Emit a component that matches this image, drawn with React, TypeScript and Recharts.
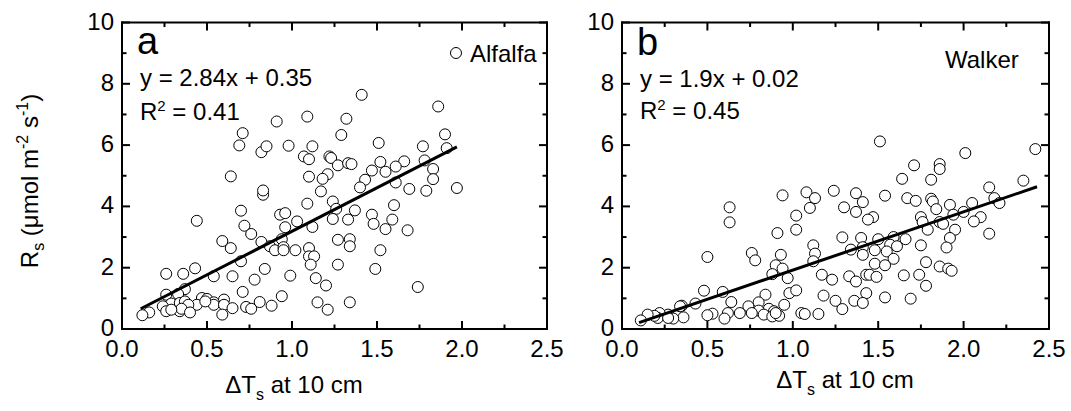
import React from 'react';
import { ScatterChart, Scatter, XAxis, YAxis } from 'recharts';

const FONT = '"Liberation Sans", Arial, Helvetica, sans-serif';

// ---- tick values & labels ----
const xMajorTicks = [0, 0.5, 1, 1.5, 2, 2.5];
const xTickLabels = ['0.0', '0.5', '1.0', '1.5', '2.0', '2.5'];
const xMinorTicks = [0.25, 0.75, 1.25, 1.75, 2.25];
const yMajorTicks = [0, 2, 4, 6, 8, 10];
const yTickLabels = ['0', '2', '4', '6', '8', '10'];
const yMinorTicks = [1, 3, 5, 7, 9];

// ---- data: [ΔTs at 10 cm, Rs] ----
const alfalfa: [number, number][] = [
  [1.41, 7.64], [1.86, 7.26], [0.91, 6.77], [1.09, 6.93], [1.32, 6.86], [0.71, 6.39], [0.69, 5.99], [1.29, 6.33],
  [1.90, 6.35], [0.98, 5.98], [1.12, 5.96], [1.51, 6.07], [1.77, 5.96], [1.91, 5.90], [0.82, 5.77], [0.85, 5.96],
  [1.07, 5.63], [1.10, 5.54], [1.22, 5.63], [1.23, 5.58], [1.27, 5.34], [1.33, 5.41], [1.35, 5.38], [1.52, 5.45],
  [1.66, 5.47], [1.78, 5.50], [1.61, 5.30], [1.47, 5.17], [1.55, 5.13], [1.83, 5.22], [0.64, 4.98], [1.10, 4.97],
  [1.21, 5.05], [1.18, 4.90], [1.43, 4.87], [1.83, 4.89], [1.40, 4.62], [1.61, 4.78], [1.69, 4.57], [1.79, 4.51],
  [1.97, 4.60], [1.17, 4.49], [0.83, 4.38], [0.83, 4.52], [1.09, 4.09], [1.24, 4.16], [1.26, 3.92], [1.60, 4.04],
  [1.37, 3.87], [0.70, 3.86], [0.44, 3.53], [0.93, 3.73], [0.96, 3.78], [1.03, 3.51], [1.24, 3.59], [1.33, 3.57],
  [1.47, 3.73], [1.48, 3.43], [1.59, 3.57], [0.72, 3.37], [1.12, 3.33], [0.96, 3.32], [1.55, 3.26], [1.68, 3.22],
  [0.76, 3.10], [0.59, 2.87], [0.82, 2.84], [0.94, 2.93], [0.87, 2.70], [0.90, 2.57], [0.95, 2.67], [0.95, 2.57],
  [1.27, 2.91], [1.34, 2.93], [1.34, 2.70], [0.64, 2.64], [1.02, 2.57], [1.10, 2.64], [1.10, 2.37], [1.13, 2.37],
  [1.52, 2.57], [0.70, 2.21], [1.11, 2.10], [1.27, 2.10], [0.26, 1.80], [0.36, 1.80], [0.43, 1.98], [0.84, 1.96],
  [1.49, 1.96], [0.54, 1.72], [0.65, 1.72], [0.78, 1.61], [0.99, 1.74], [1.14, 1.66], [1.20, 1.42], [0.37, 1.30],
  [1.74, 1.37], [0.33, 1.14], [0.71, 1.21], [0.26, 1.12], [0.47, 1.01], [0.50, 0.98], [0.60, 0.96], [0.94, 1.07],
  [0.81, 0.88], [0.54, 0.87], [0.54, 0.79], [0.29, 0.83], [0.44, 0.79], [0.34, 0.85], [0.37, 0.90], [0.60, 0.79],
  [1.15, 0.87], [1.34, 0.87], [0.24, 0.74], [0.39, 0.79], [0.65, 0.68], [0.73, 0.72], [0.76, 0.66], [0.88, 0.76],
  [0.26, 0.58], [0.34, 0.58], [0.35, 0.66], [0.40, 0.54], [0.59, 0.47], [1.21, 0.63], [0.16, 0.54], [0.12, 0.45],
  [0.29, 0.63], [0.49, 0.90],
];

const walker: [number, number][] = [
  [1.51, 6.12], [2.42, 5.87], [2.01, 5.74], [1.71, 5.34], [1.86, 5.38], [1.86, 5.22], [1.64, 4.90], [1.81, 4.87],
  [2.35, 4.84], [2.15, 4.62], [1.24, 4.51], [1.08, 4.46], [0.94, 4.36], [1.37, 4.43], [1.54, 4.35], [1.13, 4.27],
  [1.67, 4.27], [1.72, 4.18], [1.81, 4.25], [1.82, 4.16], [1.41, 4.14], [2.18, 4.27], [2.21, 4.11], [2.05, 4.11],
  [1.92, 4.05], [0.63, 3.97], [1.10, 3.95], [1.30, 3.97], [1.84, 3.91], [1.37, 3.82], [2.00, 3.82], [1.94, 3.73],
  [2.10, 3.65], [1.02, 3.70], [1.47, 3.65], [1.75, 3.65], [1.44, 3.57], [0.63, 3.48], [2.06, 3.51], [1.86, 3.49],
  [1.88, 3.43], [1.76, 3.49], [1.79, 3.24], [1.95, 3.24], [1.02, 3.24], [0.91, 3.13], [2.15, 3.11], [1.92, 2.97],
  [1.29, 2.99], [1.40, 2.97], [1.50, 2.93], [1.59, 3.00], [1.66, 2.93], [1.12, 2.73], [1.75, 2.73], [1.34, 2.59],
  [1.41, 2.67], [1.90, 2.66], [1.57, 2.75], [1.61, 2.70], [1.48, 2.57], [1.55, 2.53], [1.13, 2.46], [1.41, 2.42],
  [0.76, 2.48], [0.93, 2.42], [0.50, 2.35], [0.78, 2.24], [1.12, 2.21], [1.59, 2.29], [1.78, 2.18], [0.90, 2.08],
  [0.94, 1.97], [1.48, 2.13], [1.54, 2.08], [1.86, 2.04], [1.91, 1.97], [1.93, 1.90], [0.88, 1.79], [0.97, 1.66],
  [1.17, 1.77], [1.23, 1.61], [1.33, 1.72], [1.37, 1.55], [1.43, 1.77], [1.45, 1.77], [1.49, 1.70], [1.65, 1.75],
  [1.74, 1.77], [1.78, 1.41], [0.48, 1.25], [0.59, 1.21], [0.84, 1.12], [0.98, 1.17], [1.02, 1.26], [1.18, 1.09],
  [1.43, 1.17], [1.25, 0.92], [1.36, 0.92], [1.41, 0.85], [1.54, 1.03], [1.69, 0.99], [1.29, 0.65], [0.43, 0.83],
  [0.35, 0.76], [0.64, 0.88], [0.80, 0.87], [0.74, 0.74], [0.95, 0.79], [0.86, 0.66], [0.89, 0.58], [0.80, 0.60],
  [0.76, 0.52], [0.69, 0.52], [0.62, 0.52], [0.53, 0.50], [0.50, 0.45], [0.60, 0.34], [0.83, 0.47], [0.88, 0.41],
  [0.92, 0.43], [0.90, 0.52], [1.05, 0.52], [1.07, 0.49], [1.15, 0.49], [0.36, 0.38], [0.34, 0.74], [0.27, 0.47],
  [0.30, 0.34], [0.22, 0.52], [0.21, 0.36], [0.19, 0.43], [0.15, 0.47], [0.11, 0.28], [0.27, 0.36],
];

// regression line end points (y = 2.84x + 0.35 and y = 1.9x + 0.02)
const alfalfaFit: [number, number][] = [[0.11, 0.66], [1.97, 5.94]];
const walkerFit: [number, number][] = [[0.10, 0.21], [2.43, 4.64]];

const toObj = (arr: [number, number][]) => arr.map(([x, y]) => ({ x, y }));

const xAllTicks = [...xMajorTicks, ...xMinorTicks].sort((a, b) => a - b);
const yAllTicks = [...yMajorTicks, ...yMinorTicks].sort((a, b) => a - b);

type Side = 'bottom' | 'top' | 'left' | 'right';

const makeTick = (side: Side, majors: number[], labels: string[] | null) => (props: any) => {
  const { x, y, payload } = props;
  const v = payload.value;
  const idx = majors.findIndex((m) => Math.abs(m - v) < 1e-9);
  const major = idx >= 0;
  const len = major ? 8 : 4.5;
  let x2 = x;
  let y2 = y;
  if (side === 'bottom') y2 = y - len;
  else if (side === 'top') y2 = y + len;
  else if (side === 'left') x2 = x + len;
  else x2 = x - len;
  return (
    <g>
      <line x1={x} y1={y} x2={x2} y2={y2} stroke="#000" strokeWidth={2} />
      {major && labels && side === 'bottom' && (
        <text x={x} y={y + 27.5} textAnchor="middle" fontSize={24} fontFamily={FONT} fill="#000">
          {labels[idx]}
        </text>
      )}
      {major && labels && side === 'left' && (
        <text x={x - 8} y={y + 7} textAnchor="end" fontSize={24} fontFamily={FONT} fill="#000">
          {labels[idx]}
        </text>
      )}
    </g>
  );
};

const bottomTick = makeTick('bottom', xMajorTicks, xTickLabels);
const topTick = makeTick('top', xMajorTicks, null);
const leftTick = makeTick('left', yMajorTicks, yTickLabels);
const rightTick = makeTick('right', yMajorTicks, null);

const axisLineStyle = { stroke: '#000', strokeWidth: 2, strokeLinecap: 'square' as const };

const circleShape = (p: any) => (
  <circle cx={p.cx} cy={p.cy} r={5.5} fill="#fff" stroke="#000" strokeWidth={1} />
);
const noShape = () => <g />;

function Panel({ width, margin, points, fit }: { width: number; margin: any; points: [number, number][]; fit: [number, number][] }) {
  return (
    <ScatterChart width={width} height={411} margin={margin}>
      <XAxis xAxisId="b" orientation="bottom" type="number" dataKey="x" domain={[0, 2.5]} allowDataOverflow ticks={xAllTicks}
        interval={0} height={1} tickSize={0} tickMargin={0} tickLine={false} axisLine={axisLineStyle} tick={bottomTick} />
      <XAxis xAxisId="t" orientation="top" type="number" dataKey="x" domain={[0, 2.5]} allowDataOverflow ticks={xAllTicks}
        interval={0} height={1} tickSize={0} tickMargin={0} tickLine={false} axisLine={axisLineStyle} tick={topTick} />
      <YAxis yAxisId="l" orientation="left" type="number" dataKey="y" domain={[0, 10]} allowDataOverflow ticks={yAllTicks}
        interval={0} width={1} tickSize={0} tickMargin={0} tickLine={false} axisLine={axisLineStyle} tick={leftTick} />
      <YAxis yAxisId="r" orientation="right" type="number" dataKey="y" domain={[0, 10]} allowDataOverflow ticks={yAllTicks}
        interval={0} width={1} tickSize={0} tickMargin={0} tickLine={false} axisLine={axisLineStyle} tick={rightTick} />
      <Scatter xAxisId="b" yAxisId="l" data={toObj(points)} shape={circleShape} isAnimationActive={false} />
      <Scatter xAxisId="b" yAxisId="l" data={toObj(fit)} shape={noShape} fill="#000"
        line={{ stroke: '#000', strokeWidth: 3 }} isAnimationActive={false} />
    </ScatterChart>
  );
}

const txt = { fontFamily: FONT, fill: '#000' };

export default function App() {
  return (
    <div style={{ position: 'absolute', left: 0, top: 0, width: 1071, height: 411, background: '#fff' }}>
      <div style={{ position: 'absolute', left: 0, top: 0 }}>
        <Panel width={580} margin={{ top: 21.5, right: 32, bottom: 81, left: 121 }} points={alfalfa} fit={alfalfaFit} />
      </div>
      <div style={{ position: 'absolute', left: 560, top: 0 }}>
        <Panel width={511} margin={{ top: 21.5, right: 21, bottom: 81, left: 61 }} points={walker} fit={walkerFit} />
      </div>
      <svg width={1071} height={411} style={{ position: 'absolute', left: 0, top: 0, pointerEvents: 'none' }}>
        {/* y-axis title */}
        <text transform="translate(38,181) rotate(-90)" textAnchor="middle" fontSize={24} {...txt}>
          R<tspan fontSize={16} dy={6}>s</tspan>
          <tspan dy={-6}> (μmol m</tspan>
          <tspan fontSize={16} dy={-10}>-2</tspan>
          <tspan dy={10}> s</tspan>
          <tspan fontSize={16} dy={-10}>-1</tspan>
          <tspan dy={10}>)</tspan>
        </text>
        {/* x-axis titles */}
        <text x={294} y={393} textAnchor="middle" fontSize={24} {...txt}>
          ΔT<tspan fontSize={16} dy={7}>s</tspan><tspan dy={-7}> at 10 cm</tspan>
        </text>
        <text x={845} y={388} textAnchor="middle" fontSize={24} {...txt}>
          ΔT<tspan fontSize={16} dy={7}>s</tspan><tspan dy={-7}> at 10 cm</tspan>
        </text>
        {/* panel a annotations */}
        <text x={137} y={54} fontSize={38} {...txt}>a</text>
        <text x={140} y={86} fontSize={24} {...txt}>y = 2.84x + 0.35</text>
        <text x={140} y={120} fontSize={24} {...txt}>
          R<tspan fontSize={15} dy={-9}>2</tspan><tspan dy={9}> = 0.41</tspan>
        </text>
        <circle cx={456} cy={53} r={5.5} fill="#fff" stroke="#000" strokeWidth={1} />
        <text x={470} y={62} fontSize={24} {...txt}>Alfalfa</text>
        {/* panel b annotations */}
        <text x={637} y={55} fontSize={38} {...txt}>b</text>
        <text x={640} y={87} fontSize={24} {...txt}>y = 1.9x + 0.02</text>
        <text x={640} y={119} fontSize={24} {...txt}>
          R<tspan fontSize={15} dy={-9}>2</tspan><tspan dy={9}> = 0.45</tspan>
        </text>
        <text x={945} y={68} fontSize={24} {...txt}>Walker</text>
      </svg>
    </div>
  );
}
